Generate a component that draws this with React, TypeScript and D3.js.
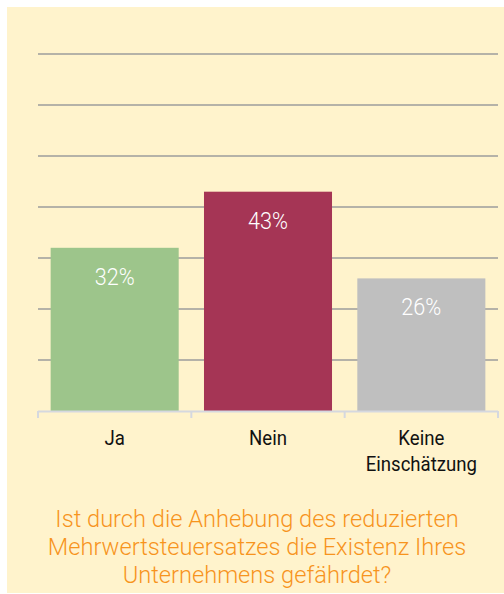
import React from "react";
import * as d3 from "d3";

const categories = ["Ja", "Nein", "Keine Einschätzung"];
const categoryLines = [["Ja"], ["Nein"], ["Keine", "Einschätzung"]];
const values = [32, 43, 26];
const colors = ["#9dc58b", "#a53555", "#bfbfbf"];
const gridTicks = [10, 20, 30, 40, 50, 60, 70];
const titleLines = [
  "Ist durch die Anhebung des reduzierten",
  "Mehrwertsteuersatzes die Existenz Ihres",
  "Unternehmens gefährdet?",
];

function CText(props: { x: number; y: number; sx: number; children: React.ReactNode; [k: string]: any }) {
  const { x, y, sx, children, ...rest } = props;
  return (
    <text transform={`translate(${x},${y}) scale(${sx},1)`} x={0} y={0} textAnchor="middle" {...rest}>
      {children}
    </text>
  );
}

export default function App() {
  const W = 504, H = 594;
  const left = 38, right = 498, top = 54, bottom = 411;
  const x = d3.scaleBand<string>().domain(categories).range([left, right]).paddingInner(0.165).paddingOuter(0.0825);
  const y = d3.scaleLinear().domain([0, 70]).range([bottom, top]);
  const band = d3.scaleBand<string>().domain(categories).range([left, right]);
  const font = "Roboto, sans-serif";
  return (
    <svg width={W} height={H} style={{ position: "absolute", left: 0, top: 0 }}>
      <rect x={7} y={7} width={W - 7} height={586} fill="#fff3cc" />
      {gridTicks.map((t) => (
        <line key={t} x1={left} x2={right} y1={y(t)} y2={y(t)} stroke="#b5b2a8" strokeWidth={2} />
      ))}
      {categories.map((c, i) => (
        <rect key={c} x={x(c)} y={y(values[i])} width={x.bandwidth()} height={bottom - y(values[i])} fill={colors[i]} />
      ))}
      <line x1={left} x2={right} y1={bottom + 0.5} y2={bottom + 0.5} stroke="#d5d8df" strokeWidth={2} />
      {[...categories.map((c) => band(c)!), right].map((px, i) => (
        <line key={i} x1={px} x2={px} y1={bottom} y2={bottom + 7} stroke="#d5d8df" strokeWidth={2} />
      ))}
      {categories.map((c, i) => (
        <CText key={c} x={x(c)! + x.bandwidth() / 2} y={y(values[i]) + 37} sx={0.9} fill="#ffffff"
          fontFamily={font} fontWeight={300} fontSize={24}>{values[i]}%</CText>
      ))}
      {categories.map((c, i) =>
        categoryLines[i].map((l, j) => (
          <CText key={c + j} x={band(c)! + band.bandwidth() / 2} y={445 + j * 26} sx={0.93} fill="#111"
            fontFamily={font} fontWeight={400} fontSize={20}>{l}</CText>
        ))
      )}
      {titleLines.map((l, i) => (
        <CText key={i} x={257} y={527 + i * 28} sx={0.965} fill="#f7941d"
          fontFamily={font} fontWeight={300} fontSize={24.5}>{l}</CText>
      ))}
    </svg>
  );
}
